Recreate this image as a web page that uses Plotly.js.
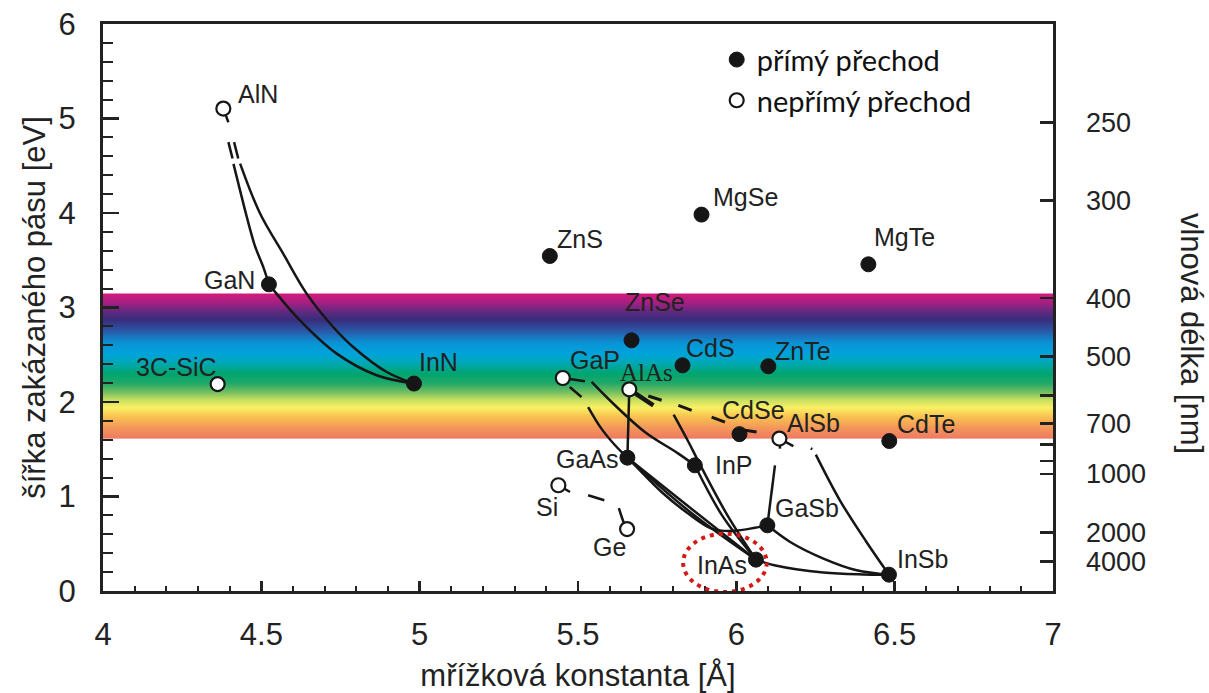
<!DOCTYPE html>
<html>
<head>
<meta charset="utf-8">
<script src="https://cdn.plot.ly/plotly-3.0.1.min.js"></script>
<style>html,body{margin:0;padding:0;background:#fff;}#chart{width:1209px;height:693px;}</style>
</head>
<body>
<div id="chart"></div>
<script>
// ---------- data ----------
const directNames   = ['GaN','InN','ZnS','MgSe','MgTe','ZnSe','CdS','ZnTe','CdSe','CdTe','GaAs','InP','GaSb','InAs','InSb'];
const directLattice = [4.524,4.982,5.411,5.890,6.417,5.669,5.830,6.101,6.010,6.483,5.656,5.869,6.098,6.062,6.482];
const directGap     = [3.245,2.195,3.545,3.983,3.457,2.653,2.388,2.378,1.660,1.587,1.411,1.330,0.695,0.332,0.173];

const indirectNames   = ['AlN','3C-SiC','GaP','AlAs','AlSb','Si','Ge'];
const indirectLattice = [4.380,4.362,5.452,5.662,6.136,5.438,5.655];
const indirectGap     = [5.105,2.190,2.254,2.134,1.613,1.119,0.655];

// alloy curves (null = gap in the drawn line)
const alnGanX = [4.380,4.396,null,4.396,4.409,null,4.412,4.432,4.454,4.480,4.506,4.524];
const alnGanY = [5.105,4.960,null,4.750,4.576,null,4.520,4.250,3.960,3.650,3.430,3.245];
const alnInnX = [4.414,4.427,null,4.433,4.496,4.569,4.643,4.727,4.790,4.896,4.982];
const alnInnY = [4.750,4.576,null,4.523,3.994,3.570,3.147,2.794,2.582,2.317,2.195];
const ganInnX = [4.524,4.622,4.738,4.864,4.982];
const ganInnY = [3.245,2.864,2.512,2.283,2.195];
const gapGaasX = [5.474,5.511,null,5.532,5.574,5.617,5.656];
const gapGaasY = [2.159,2.053,null,1.947,1.718,1.542,1.411];
const gapInpX = [5.452,5.522,null,5.543,5.606,5.711,5.817,5.869];
const gapInpY = [2.254,2.219,null,2.212,2.000,1.683,1.454,1.330];
const alasGaasX = [5.662,5.656];
const alasGaasY = [2.134,1.411];
const alasInasStubX = [5.662,5.738];
const alasInasStubY = [2.134,1.965];
const alasInasX = [5.802,5.849,5.881,5.972,6.062];
const alasInasY = [1.867,1.577,1.365,0.800,0.332];
const alasAlsbX = [5.722,5.764,null,5.817,5.859,null,5.922,5.964,null,6.027,6.064];
const alasAlsbY = [2.063,2.018,null,1.965,1.912,null,1.841,1.788,null,1.700,1.683];
const inpInasX = [5.869,5.955,6.062];
const inpInasY = [1.330,0.800,0.332];
const gaasInasAX = [5.656,5.860,6.062];
const gaasInasAY = [1.411,0.865,0.332];
const gaasInasBX = [5.656,5.860,6.062];
const gaasInasBY = [1.411,0.820,0.332];
const gaasGasbX = [5.656,5.680,5.764,5.848,5.922,5.985,6.098];
const gaasGasbY = [1.411,1.330,1.048,0.819,0.660,0.635,0.695];
const alsbGasbX = [6.136,6.138,null,6.122,6.098];
const alsbGasbY = [1.613,1.507,null,1.330,0.695];
const alsbInsbX = [6.136,6.180,null,6.235,6.240,null,6.251,6.327,6.411,6.482];
const alsbInsbY = [1.613,1.534,null,1.510,1.502,null,1.443,0.960,0.519,0.173];
const gasbInsbX = [6.098,6.170,6.275,6.380,6.482];
const gasbInsbY = [0.695,0.519,0.343,0.219,0.173];
const inasInsbX = [6.062,6.120,6.275,6.400,6.482];
const inasInsbY = [0.332,0.272,0.195,0.175,0.173];
const siGeX = [5.438,5.475,null,5.532,5.583,null,5.629,5.645,5.655];
const siGeY = [1.119,1.048,null,1.013,0.960,null,0.878,0.720,0.655];

// right axis: wavelength ticks (nm)
const wavelengths   = [250,300,400,500,600,700,800,900,1000,2000,4000];
const wavelengthLbl = ['250','300','400','500','','700','','','1000','2000','4000'];

// visible spectrum band (eV) and its colour stops
const bandTop = 3.15, bandBottom = 1.61;
const bandStopE     = [3.15,3.05,2.95,2.87,2.75,2.63,2.52,2.42,2.30,2.20,2.10,2.02,1.94,1.84,1.73,1.61];
const bandStopColor = ['#d8197c','#a42082','#5c2a7e','#3a2c7c','#2a58a8','#0a92d4','#00a2dc','#00a8b8','#00a470','#20a868','#78c060','#c8e060','#faf064','#f8c050','#f4985a','#ee7862'];

// ---------- style ----------
const ink = '#161616';
const labelOffsets = {
  'GaN':[-39,4],'InN':[25,22],'ZnS':[30,17],'MgSe':[44,18],'MgTe':[36,27],'ZnSe':[23,38],
  'CdS':[28,17],'ZnTe':[35,15],'CdSe':[14,24],'CdTe':[37,17],'GaAs':[-40,-1],'InP':[39,0],
  'GaSb':[40,17],'InAs':[-34,-5],'InSb':[34,16],
  'AlN':[35,15],'3C-SiC':[-41,17],'GaP':[32,18],'AlAs':[17,17],'AlSb':[34,16],'Si':[-11,-22],'Ge':[-18,-18]
};

function line(x, y, w, extra) {
  return Object.assign({x:x, y:y, type:'scatter', mode:'lines', showlegend:false, hoverinfo:'skip',
    connectgaps:false, line:{color:ink, width:w || 2.5, shape:'spline', smoothing:1}}, extra || {});
}

const traces = [
  line(alnGanX, alnGanY), line(alnInnX, alnInnY), line(ganInnX, ganInnY),
  line(gapGaasX, gapGaasY), line(gapInpX, gapInpY), line(alasGaasX, alasGaasY),
  line(alasInasStubX, alasInasStubY, 4.5), line(alasInasX, alasInasY),
  line(alasAlsbX, alasAlsbY, 3), line(inpInasX, inpInasY),
  line(gaasInasAX, gaasInasAY), line(gaasInasBX, gaasInasBY), line(gaasGasbX, gaasGasbY),
  line(alsbGasbX, alsbGasbY), line(alsbInsbX, alsbInsbY), line(gasbInsbX, gasbInsbY),
  line(inasInsbX, inasInsbY), line(siGeX, siGeY),
  {x:directLattice, y:directGap, type:'scatter', mode:'markers', name:'přímý přechod', hoverinfo:'skip',
   marker:{symbol:'circle', size:15, color:ink, line:{color:ink, width:1}}},
  {x:indirectLattice, y:indirectGap, type:'scatter', mode:'markers', name:'nepřímý přechod', hoverinfo:'skip',
   marker:{symbol:'circle', size:14, color:'#ffffff', line:{color:ink, width:2.2}}},
  {x:[null], y:[null], yaxis:'y2', type:'scatter', mode:'markers', showlegend:false, hoverinfo:'skip'}
];

// gradient image for the band
const stopsSvg = bandStopE.map((e,i) =>
  `<stop offset='${((bandTop - e)/(bandTop - bandBottom)).toFixed(4)}' stop-color='${bandStopColor[i]}'/>`).join('');
const svg = `<svg xmlns='http://www.w3.org/2000/svg' width='100' height='100' viewBox='0 0 100 100' preserveAspectRatio='none'><defs><linearGradient id='g' x1='0' y1='0' x2='0' y2='1'>${stopsSvg}</linearGradient></defs><rect x='0' y='0' width='100' height='100' fill='url(#g)'/></svg>`;
const bandSrc = 'data:image/svg+xml;charset=utf-8,' + encodeURIComponent(svg);

const labelFont = {family:'Liberation Sans, Arial, sans-serif', size:25, color:'#222'};
const annotations = [];
directNames.forEach((n,i) => {
  const o = labelOffsets[n];
  annotations.push({x:directLattice[i], y:directGap[i], xref:'x', yref:'y', text:n, showarrow:false,
    xanchor:'center', yanchor:'middle', xshift:o[0], yshift:o[1], font:labelFont});
});
indirectNames.forEach((n,i) => {
  const o = labelOffsets[n];
  const f = n === 'AlAs' ? {family:'Liberation Serif, Times New Roman, serif', size:25, color:'#222'} : labelFont;
  annotations.push({x:indirectLattice[i], y:indirectGap[i], xref:'x', yref:'y', text:n, showarrow:false,
    xanchor:'center', yanchor:'middle', xshift:o[0], yshift:o[1], font:f});
});
annotations.push({x:1.146, y:0.454, xref:'paper', yref:'paper', text:'vlnová délka [nm]', showarrow:false,
  textangle:90, xanchor:'center', yanchor:'middle', font:{family:'Liberation Sans, Arial, sans-serif', size:31, color:'#222'}});

const layout = {
  width:1209, height:693,
  margin:{l:103, r:156, t:24, b:102},
  paper_bgcolor:'#ffffff', plot_bgcolor:'rgba(0,0,0,0)',
  font:{family:'Liberation Sans, Arial, sans-serif', color:'#222'},
  hovermode:false,
  showlegend:true,
  legend:{x:0.646, y:0.982, xanchor:'left', yanchor:'top', bgcolor:'rgba(0,0,0,0)',
    font:{family:'Lato, Open Sans, sans-serif', size:29, color:'#111'}, itemsizing:'trace', tracegroupgap:0},
  xaxis:{range:[4,7], tick0:4, dtick:0.5, ticks:'inside', ticklen:10, tickwidth:2.5, tickcolor:'#222',
    showline:true, linewidth:3, linecolor:'#222', mirror:true, showgrid:false, zeroline:false,
    tickfont:{size:31, color:'#222'}, ticklabelstandoff:14, automargin:false,
    minor:{ticks:'inside', dtick:0.1, ticklen:5, tickwidth:2, tickcolor:'#222', showgrid:false},
    title:{text:'mřížková konstanta [Å]', font:{size:31, color:'#222'}, standoff:22}},
  yaxis:{range:[0,6], tick0:0, dtick:1, ticks:'inside', ticklen:16, tickwidth:2.5, tickcolor:'#222',
    showline:true, linewidth:3, linecolor:'#222', mirror:true, showgrid:false, zeroline:false,
    tickfont:{size:31, color:'#222'}, ticklabelstandoff:18, automargin:false,
    minor:{ticks:'inside', dtick:0.2, ticklen:10, tickwidth:2, tickcolor:'#222', showgrid:false},
    title:{text:'šířka zakázaného pásu [eV]', font:{size:31, color:'#222'}, standoff:4}},
  yaxis2:{overlaying:'y', side:'right', range:[0,6], tickmode:'array',
    tickvals:wavelengths.map(l => 1240/l), ticktext:wavelengthLbl,
    ticks:'inside', ticklen:13, tickwidth:2.5, tickcolor:'#222', showline:false, showgrid:false, zeroline:false,
    tickfont:{size:27, color:'#222'}, ticklabelstandoff:32, automargin:false},
  images:[{source:bandSrc, xref:'x', yref:'y', x:4, y:bandTop, sizex:3, sizey:bandTop - bandBottom,
    xanchor:'left', yanchor:'top', sizing:'stretch', layer:'below'}],
  shapes:[{type:'circle', xref:'x', yref:'y', x0:5.832, x1:6.096, y0:-0.01, y1:0.607,
    line:{color:'#d21a1a', width:4, dash:'4px,5px'}, layer:'above'}],
  annotations:annotations
};

Plotly.newPlot('chart', traces, layout, {staticPlot:true, displayModeBar:false});
</script>
</body>
</html>
